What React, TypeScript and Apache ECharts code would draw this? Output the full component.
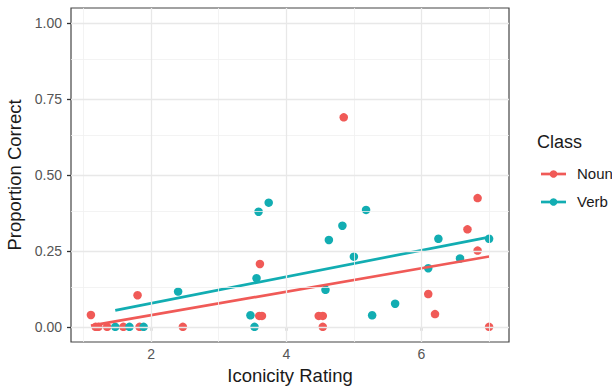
import React, { useEffect, useRef } from "react";
import * as echarts from "echarts";

const nounX = [1.11, 1.18, 1.22, 1.35, 1.59, 1.80, 1.83, 2.47, 3.60, 3.64, 3.61, 4.48, 4.54, 4.54, 4.85, 6.10, 6.20, 6.68, 6.83, 6.83, 7.00];
const nounY = [0.039, 0, 0, 0, 0, 0.104, 0, 0, 0.036, 0.036, 0.207, 0.036, 0.036, 0, 0.69, 0.108, 0.042, 0.321, 0.424, 0.251, 0];
const verbX = [1.47, 1.68, 1.89, 2.40, 3.47, 3.53, 3.56, 3.59, 3.74, 4.58, 4.63, 4.83, 5.00, 5.18, 5.27, 5.61, 6.10, 6.25, 6.57, 7.00];
const verbY = [0, 0, 0, 0.116, 0.038, 0, 0.160, 0.379, 0.409, 0.122, 0.286, 0.333, 0.231, 0.385, 0.038, 0.076, 0.193, 0.290, 0.225, 0.290];

const xTicks = [2, 4, 6];
const xMinor = [1, 3, 5, 7];
const yTicks = [0, 0.25, 0.5, 0.75, 1];
const yMinor = [0.125, 0.375, 0.625, 0.875];
const yLimits = [0, 1];

const RED = "#F05A57";
const TEAL = "#12ADB2";
const FONT = "Liberation Sans, Arial, sans-serif";

function fit(xs: number[], ys: number[]) {
  const n = xs.length;
  const mx = xs.reduce((a, b) => a + b, 0) / n;
  const my = ys.reduce((a, b) => a + b, 0) / n;
  let sxy = 0, sxx = 0;
  for (let i = 0; i < n; i++) {
    sxy += (xs[i] - mx) * (ys[i] - my);
    sxx += (xs[i] - mx) * (xs[i] - mx);
  }
  const b = sxy / sxx;
  const a = my - b * mx;
  const lo = Math.min(...xs), hi = Math.max(...xs);
  return [[lo, a + b * lo], [hi, a + b * hi]];
}

export default function App() {
  const ref = useRef<HTMLDivElement>(null);
  useEffect(() => {
    if (!ref.current) return;
    const chart = echarts.init(ref.current, null, { renderer: "svg" });
    const allX = nounX.concat(verbX);
    const xlo = Math.min(...allX), xhi = Math.max(...allX);
    const xr = xhi - xlo;
    const yr = yLimits[1] - yLimits[0];
    const gridMajor = { color: "#E8E8E8", width: 1.3, type: "solid" };
    const gridMinor = { color: "#F0F0F0", width: 0.8, type: "solid" };
    const mk = (arr: number[], key: string, style: any) =>
      arr.map((v) => ({ [key]: v, lineStyle: style }));
    chart.setOption({
      animation: false,
      grid: {
        left: 71, top: 8, right: 103, bottom: 46,
        containLabel: false, outerBoundsMode: "none",
        show: true, borderColor: "#444444", borderWidth: 1.2, backgroundColor: "#fff",
      },
      xAxis: {
        type: "value",
        min: xlo - 0.05 * xr,
        max: xhi + 0.05 * xr,
        name: "Iconicity Rating",
        nameLocation: "middle",
        nameGap: 23,
        nameTextStyle: { fontFamily: FONT, fontSize: 18.5, color: "#1a1a1a" },
        axisLine: { show: false },
        axisTick: { show: true, length: 4, customValues: xTicks, lineStyle: { color: "#333", width: 1.3 } },
        axisLabel: { customValues: xTicks, fontFamily: FONT, fontSize: 14, color: "#555555", margin: 5 },
        splitLine: { show: false },
      },
      yAxis: {
        type: "value",
        min: yLimits[0] - 0.05 * yr,
        max: yLimits[1] + 0.05 * yr,
        name: "Proportion Correct",
        nameLocation: "middle",
        nameGap: 41,
        nameTextStyle: { fontFamily: FONT, fontSize: 18.5, color: "#1a1a1a" },
        axisLine: { show: false },
        axisTick: { show: true, length: 4, customValues: yTicks, lineStyle: { color: "#333", width: 1.3 } },
        axisLabel: {
          customValues: yTicks, fontFamily: FONT, fontSize: 14, color: "#555555", margin: 9,
          formatter: (v: number) => v.toFixed(2),
        },
        splitLine: { show: false },
      },
      series: [
        {
          type: "line", data: [], silent: true, z: 1,
          markLine: {
            silent: true, symbol: "none", label: { show: false }, animation: false,
            data: [
              ...mk(xMinor, "xAxis", gridMinor),
              ...mk(yMinor, "yAxis", gridMinor),
              ...mk(xTicks, "xAxis", gridMajor),
              ...mk(yTicks, "yAxis", gridMajor),
            ],
          },
        },
        {
          name: "Noun", type: "scatter", z: 3, symbolSize: 8.5,
          itemStyle: { color: RED, opacity: 1 },
          data: nounX.map((x, i) => [x, nounY[i]]),
        },
        {
          name: "Verb", type: "scatter", z: 3, symbolSize: 8.5,
          itemStyle: { color: TEAL, opacity: 1 },
          data: verbX.map((x, i) => [x, verbY[i]]),
        },
        {
          type: "line", z: 4, showSymbol: false, symbol: "none",
          lineStyle: { color: RED, width: 2.7 },
          data: fit(nounX, nounY),
        },
        {
          type: "line", z: 4, showSymbol: false, symbol: "none",
          lineStyle: { color: TEAL, width: 2.7 },
          data: fit(verbX, verbY),
        },
      ],
      graphic: [
        { type: "text", left: 537, top: 133, style: { text: "Class", fontFamily: FONT, fontSize: 18, fill: "#1a1a1a" } },
        { type: "line", shape: { x1: 541, y1: 174, x2: 566, y2: 174 }, style: { stroke: RED, lineWidth: 2.7 } },
        { type: "circle", shape: { cx: 553.5, cy: 174, r: 3.8 }, style: { fill: RED } },
        { type: "text", left: 577, top: 166, style: { text: "Noun", fontFamily: FONT, fontSize: 15, fill: "#1a1a1a" } },
        { type: "line", shape: { x1: 541, y1: 202, x2: 566, y2: 202 }, style: { stroke: TEAL, lineWidth: 2.7 } },
        { type: "circle", shape: { cx: 553.5, cy: 202, r: 3.8 }, style: { fill: TEAL } },
        { type: "text", left: 577, top: 194, style: { text: "Verb", fontFamily: FONT, fontSize: 15, fill: "#1a1a1a" } },
      ],
    });
    return () => chart.dispose();
  }, []);
  return <div ref={ref} style={{ width: 612, height: 388, position: "absolute", left: 0, top: 0 }} />;
}
